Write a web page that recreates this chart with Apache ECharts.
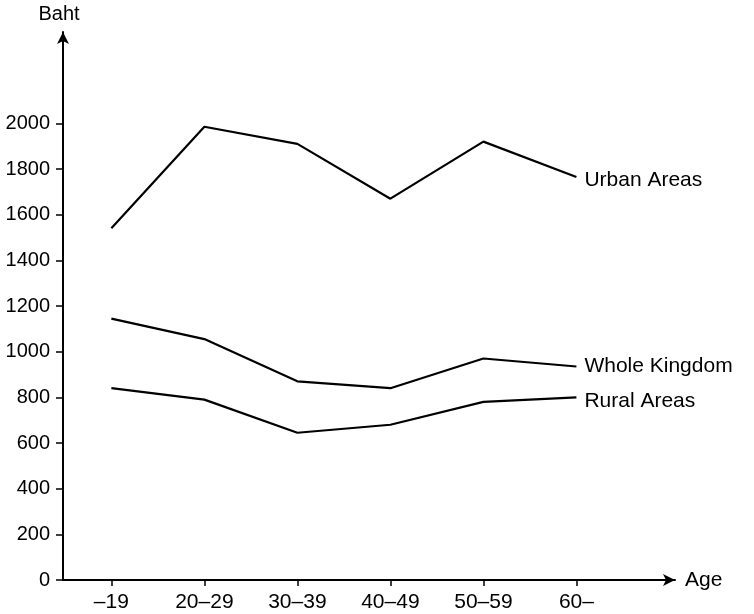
<!DOCTYPE html>
<html>
<head>
<meta charset="utf-8">
<script src="https://cdn.jsdelivr.net/npm/echarts@6/dist/echarts.min.js"></script>
<style>
  html, body { margin: 0; padding: 0; background: #fff; }
  #chart { width: 754px; height: 614px; }
</style>
</head>
<body>
<div id="chart"></div>
<script>
// age groups on the x axis
const ageGroups = ['–19', '20–29', '30–39', '40–49', '50–59', '60–'];
// income in Baht
const urbanAreas = [1540, 1985, 1910, 1670, 1920, 1765];
const wholeKingdom = [1145, 1055, 870, 840, 970, 935];
const ruralAreas = [840, 790, 645, 680, 780, 800];
// y tick labels
const bahtTicks = [0, 200, 400, 600, 800, 1000, 1200, 1400, 1600, 1800, 2000];

const font = '"Liberation Sans", Arial, sans-serif';

// build [index, value] pairs for the value x axis
function toPoints(values) {
  return values.map((v, i) => [i, v]);
}

function lineSeries(name, values, offset) {
  return {
    name: name,
    type: 'line',
    data: toPoints(values),
    symbol: 'none',
    silent: true,
    lineStyle: { color: '#000', width: 2.2 },
    endLabel: {
      show: true,
      formatter: '{a}',
      distance: 8,
      offset: offset,
      color: '#000',
      fontSize: 21,
      fontFamily: font
    }
  };
}

const chart = echarts.init(document.getElementById('chart'));

chart.setOption({
  backgroundColor: '#fff',
  animation: false,
  grid: { left: 63, right: 79, top: 32, bottom: 34 },
  xAxis: {
    type: 'value',
    min: -0.52,
    max: 6.06,
    name: 'Age',
    nameLocation: 'end',
    nameGap: 10,
    nameTextStyle: { color: '#000', fontSize: 21, fontFamily: font, padding: [4, 0, 0, 0] },
    axisLine: { onZero: false, lineStyle: { color: '#000', width: 2 }, symbol: ['none', 'arrow'], symbolSize: [9, 12] },
    axisTick: { show: true, length: 6, customValues: ageGroups.map((g, i) => i), lineStyle: { color: '#000', width: 1.5 } },
    axisLabel: {
      customValues: ageGroups.map((g, i) => i),
      formatter: (v) => ageGroups[Math.round(v)],
      margin: 12,
      color: '#000',
      fontSize: 21,
      fontFamily: font
    },
    splitLine: { show: false }
  },
  yAxis: {
    type: 'value',
    min: 0,
    max: 2400,
    name: 'Baht',
    nameLocation: 'end',
    nameGap: 8,
    nameTextStyle: { color: '#000', fontSize: 20, fontFamily: font, padding: [0, 8, 0, 0] },
    axisLine: { show: true, onZero: false, lineStyle: { color: '#000', width: 2 }, symbol: ['none', 'arrow'], symbolSize: [9, 12] },
    axisTick: { show: true, length: 7, customValues: bahtTicks, lineStyle: { color: '#000', width: 1.5 } },
    axisLabel: {
      customValues: bahtTicks,
      formatter: (v) => String(v),
      margin: 13,
      color: '#000',
      fontSize: 20,
      fontFamily: font
    },
    splitLine: { show: false }
  },
  series: [
    lineSeries('Urban Areas', urbanAreas, [0, 3]),
    lineSeries('Whole Kingdom', wholeKingdom, [0, 0]),
    lineSeries('Rural Areas', ruralAreas, [0, 4])
  ]
});
</script>
</body>
</html>
